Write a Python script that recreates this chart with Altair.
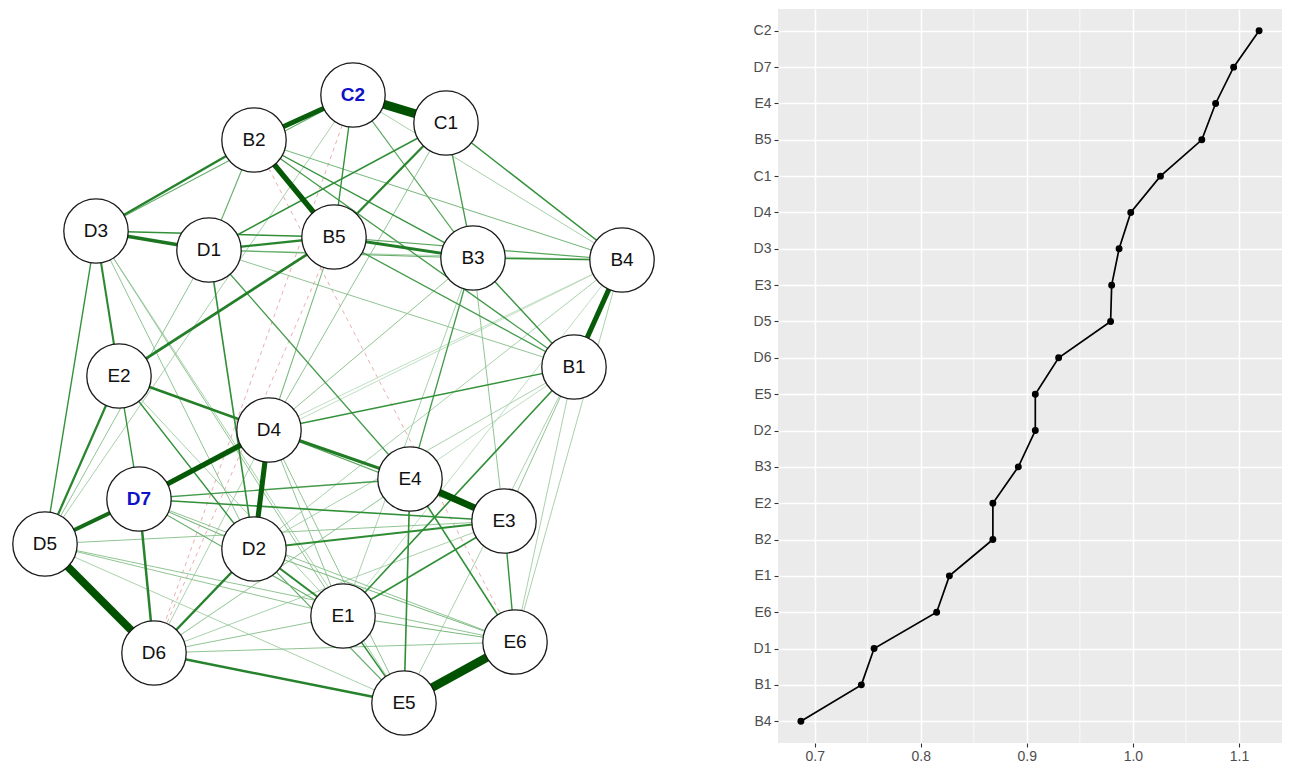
import altair as alt
import pandas as pd

# ---------------- network (layout coordinates) ----------------
node_names = ["C2", "C1", "B2", "D3", "D1", "B5", "B3", "B4", "B1", "E2",
              "D4", "E4", "E3", "D7", "D5", "D2", "E1", "E6", "D6", "E5"]
node_x = [351, 444, 252, 94, 207, 332, 471, 620, 572, 117,
          267, 408, 502, 137, 43, 252, 341, 513, 152, 402]
node_y = [94, 122, 139, 230, 249, 236, 257, 259, 366, 375,
          429, 478, 520, 498, 543, 548, 615, 641, 652, 702]
highlight_nodes = ["C2", "D7"]

edge_from = ["C2", "E5", "D5", "E4", "B2", "C2", "B4", "D7", "D4", "D5",
             "D3", "D4", "B5", "E2", "E2", "D3", "D7", "D2", "D6", "E2",
             "C1", "D1", "D3", "D2",
             "C2", "C2", "C1", "C1", "C1", "B2", "B2", "B2", "B2", "D3",
             "D3", "D3", "D1", "D1", "E2", "E2", "D4", "D7", "D7", "D2",
             "B3", "B5", "B3", "B5", "B1", "E4", "E4", "E4", "E3", "E3",
             "E1", "D4", "D1",
             "C2", "C1", "D3", "D3", "D3", "D1", "D1", "D1", "B5", "D4",
             "D4", "D4", "D4", "B3", "B3", "B1", "B1", "B1", "B4", "B4",
             "B4", "B4", "B4", "D5", "D5", "D5", "D5", "D6", "D6", "D6",
             "D6", "D7", "D7", "D7", "D2", "D2", "E1", "B1", "B1", "C2",
             "E2",
             "B2", "C2", "B5"]
edge_to = ["C1", "E6", "D6", "E3", "B5", "B2", "B1", "D4", "D2", "D7",
           "D1", "E4", "B3", "B5", "D4", "B2", "D6", "D6", "E5", "D5",
           "B5", "B5", "E2", "E1",
           "B5", "B3", "D1", "B3", "B4", "D1", "B3", "B1", "B4", "B5",
           "C2", "D5", "D2", "E4", "D7", "D2", "B1", "E3", "E4", "E3",
           "B4", "B4", "B1", "B1", "E1", "B3", "E5", "E6", "E6", "E1",
           "E5", "E3", "B3",
           "B4", "D4", "D2", "E1", "E5", "D5", "B1", "B4", "D4", "B3",
           "E1", "E5", "D6", "E3", "E1", "E6", "E3", "E5", "E6", "D2",
           "D4", "E1", "D7", "E3", "E1", "E6", "E5", "E1", "E6", "E3",
           "E4", "E1", "D2", "E6", "E5", "E6", "E6", "D6", "D2", "D5",
           "E1",
           "E6", "D6", "D6"]
edge_weight = [0.45, 0.43, 0.40, 0.35, 0.28, 0.26, 0.27, 0.28, 0.27, 0.22,
               0.19, 0.17, 0.17, 0.16, 0.16, 0.15, 0.15, 0.15, 0.15, 0.14,
               0.14, 0.14, 0.13, 0.13,
               0.10, 0.08, 0.11, 0.09, 0.10, 0.07, 0.10, 0.09, 0.06, 0.11,
               0.07, 0.10, 0.11, 0.09, 0.10, 0.10, 0.10, 0.11, 0.09, 0.12,
               0.11, 0.08, 0.10, 0.09, 0.11, 0.09, 0.11, 0.11, 0.10, 0.11,
               0.10, 0.08, 0.07,
               0.04, 0.05, 0.05, 0.05, 0.04, 0.05, 0.05, 0.04, 0.06, 0.05,
               0.05, 0.05, 0.04, 0.05, 0.04, 0.04, 0.05, 0.04, 0.04, 0.04,
               0.03, 0.03, 0.03, 0.05, 0.05, 0.05, 0.04, 0.05, 0.05, 0.04,
               0.04, 0.07, 0.06, 0.05, 0.07, 0.06, 0.06, 0.03, 0.04, 0.04,
               0.04,
               -0.04, -0.04, -0.04]

# ---------------- centrality (strength) ----------------
strength_items = ["C2", "D7", "E4", "B5", "C1", "D4", "D3", "E3", "D5", "D6",
                  "E5", "D2", "B3", "E2", "B2", "E1", "E6", "D1", "B1", "B4"]
strength_values = [1.119, 1.095, 1.078, 1.065, 1.026, 0.998, 0.987, 0.980, 0.979, 0.930,
                   0.908, 0.908, 0.892, 0.868, 0.868, 0.827, 0.815, 0.756, 0.744, 0.687]
x_ticks = [0.7, 0.8, 0.9, 1.0, 1.1]
x_minor = [0.75, 0.85, 0.95, 1.05]

FONT = "Liberation Sans"

# ---------------- build tables ----------------
pos = {n: (x, y) for n, x, y in zip(node_names, node_x, node_y)}
edges = pd.DataFrame({"a": edge_from, "b": edge_to, "w": edge_weight})
edges["x"] = [pos[n][0] for n in edges["a"]]
edges["y"] = [pos[n][1] for n in edges["a"]]
edges["x2"] = [pos[n][0] for n in edges["b"]]
edges["y2"] = [pos[n][1] for n in edges["b"]]
edges["aw"] = edges["w"].abs()
edges = edges.sort_values("aw", kind="stable").reset_index(drop=True)
pos_e = edges[edges["w"] > 0]
neg_e = edges[edges["w"] < 0]

nodes = pd.DataFrame({"name": node_names, "x": node_x, "y": node_y})
nodes["hl"] = nodes["name"].isin(highlight_nodes)

NX = alt.Scale(domain=[6, 706], nice=False, zero=False)
NY = alt.Scale(domain=[8, 742], nice=False, zero=False, reverse=True)
ex = alt.X("x:Q", scale=NX, axis=None)
ey = alt.Y("y:Q", scale=NY, axis=None)

neg_layer = alt.Chart(neg_e).mark_rule(
    strokeDash=[4, 4], color="#e59a9a", strokeWidth=1, opacity=0.8
).encode(x=ex, y=ey, x2="x2:Q", y2="y2:Q")

edge_layer = alt.Chart(pos_e).mark_rule(strokeCap="butt").encode(
    x=ex, y=ey, x2="x2:Q", y2="y2:Q",
    strokeWidth=alt.StrokeWidth(
        "w:Q", scale=alt.Scale(domain=[0, 0.1, 0.45], range=[0.5, 1.4, 9]), legend=None
    ),
    color=alt.Color(
        "w:Q",
        scale=alt.Scale(domain=[0, 0.1, 0.3], range=["#e0f0e0", "#33923a", "#005200"],
                        clamp=True, interpolate="rgb"),
        legend=None,
    ),
)

node_layer = alt.Chart(nodes).mark_circle(
    size=4150, color="white", opacity=1, stroke="#1a1a1a", strokeWidth=1.3
).encode(x=ex, y=ey)

label_plain = alt.Chart(nodes[~nodes["hl"]]).mark_text(
    fontSize=19, font=FONT, color="#111111", align="center", baseline="middle"
).encode(x=ex, y=ey, text="name:N")

label_hl = alt.Chart(nodes[nodes["hl"]]).mark_text(
    fontSize=19, font=FONT, color="#1010C8", fontWeight="bold", align="center", baseline="middle"
).encode(x=ex, y=ey, text="name:N")

network = alt.layer(neg_layer, edge_layer, node_layer, label_plain, label_hl).properties(
    width=700, height=734
)

# ---------------- right panel ----------------
sdf = pd.DataFrame({"item": strength_items, "value": strength_values,
                    "rank": list(range(len(strength_items)))})
minor_df = pd.DataFrame({"value": x_minor})

XS = alt.Scale(domain=[0.6654, 1.1406], nice=False, zero=False)
YS = alt.Scale(domain=strength_items, type="point", padding=0.6)

x_axis = alt.Axis(values=x_ticks, format=".1f", grid=True, gridColor="white", gridWidth=1.5,
                  domain=False, tickColor="#333333", tickSize=4, tickWidth=1.1,
                  labelColor="#4D4D4D", labelFontSize=14, labelFont=FONT, labelPadding=2,
                  title=None)
y_axis = alt.Axis(grid=True, gridColor="white", gridWidth=1.5, domain=False,
                  tickColor="#333333", tickSize=4, tickWidth=1.1,
                  labelColor="#4D4D4D", labelFontSize=14, labelFont=FONT, labelPadding=3,
                  title=None)

sx = alt.X("value:Q", scale=XS, axis=x_axis)
sy = alt.Y("item:N", scale=YS, sort=strength_items, axis=y_axis)

minor_layer = alt.Chart(minor_df).mark_rule(color="white", strokeWidth=0.8).encode(x=sx)
line_layer = alt.Chart(sdf).mark_line(color="black", strokeWidth=1.7).encode(
    x=sx, y=sy, order=alt.Order("rank:Q")
)
pt_layer = alt.Chart(sdf).mark_circle(size=48, color="black", opacity=1).encode(x=sx, y=sy)

right = alt.layer(minor_layer, line_layer, pt_layer).properties(
    width=504, height=734, view=alt.ViewBackground(fill="#EBEBEB", strokeWidth=0)
)

chart = (
    alt.hconcat(network, right, spacing=70, bounds="flush")
    .properties(padding=0)
    .configure(font=FONT)
    .configure_view(strokeWidth=0)
)

chart.save("out.html", embed_options={"renderer": "svg", "actions": False})
